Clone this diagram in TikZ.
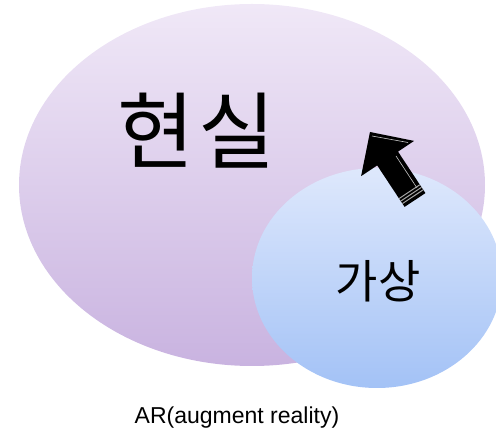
\documentclass[tikz,border=0pt]{standalone}
\usepackage{fontspec}
\setmainfont{Liberation Sans}
\newfontfamily\krfont{Noto Sans CJK KR}
\usetikzlibrary{shapes.geometric}
\definecolor{realtop}{HTML}{F0E8F7}
\definecolor{realbot}{HTML}{C9B3E0}
\definecolor{virttop}{HTML}{DEE8FC}
\definecolor{virtbot}{HTML}{A3C2F6}
\tikzset{
  blob/.style={ellipse, draw=none, inner sep=0pt},
  stripe/.style={draw=gray!70, line width=1pt},
}
\begin{document}
\begin{tikzpicture}[x=1pt,y=-1pt]
\useasboundingbox (0,0) rectangle (496,435);
\node[blob, minimum width=466pt, minimum height=362pt, top color=realtop, bottom color=realbot] (real) at (252,185) {};
\node[blob, minimum width=250pt, minimum height=220pt, top color=virttop, bottom color=virtbot] (virt) at (377,278) {};
\node[font=\krfont\fontsize{84}{86}\selectfont] (realtxt) at (197,131) {현\hspace{4pt}실};
\node[font=\krfont\fontsize{46}{48}\selectfont] (virttxt) at (378,281) {가상};
\node[font=\fontsize{23}{26}\selectfont] (cap) at (237,418) {AR(augment reality)};
% block arrow
\fill[black] (404.6,206.9) -- (377.2,165.4) -- (361.1,176.1) -- (370,132) -- (414.1,140.9) -- (398,151.6) -- (425.4,193.1) -- cycle;
\draw[gray!45, line width=0.6pt] (372,136) -- (408,142.5);
\draw[gray!45, line width=0.6pt] (396,156) -- (417,188);
\draw[stripe] (402.4,203.6) -- (423.2,189.8);
\draw[stripe] (400.7,201.1) -- (421.5,187.3);
\draw[stripe] (399.0,198.6) -- (419.8,184.8);
\end{tikzpicture}
\end{document}
